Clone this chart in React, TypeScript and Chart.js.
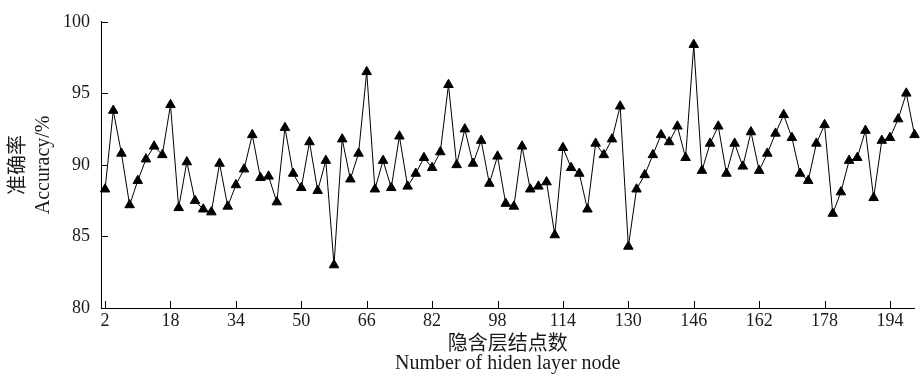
import React, { useEffect, useRef } from 'react';
import { Chart, registerables } from 'chart.js';

Chart.register(...registerables);

const nodes = [
  2, 4, 6, 8, 10, 12, 14, 16, 18, 20,
  22, 24, 26, 28, 30, 32, 34, 36, 38, 40,
  42, 44, 46, 48, 50, 52, 54, 56, 58, 60,
  62, 64, 66, 68, 70, 72, 74, 76, 78, 80,
  82, 84, 86, 88, 90, 92, 94, 96, 98, 100,
  102, 104, 106, 108, 110, 112, 114, 116, 118, 120,
  122, 124, 126, 128, 130, 132, 134, 136, 138, 140,
  142, 144, 146, 148, 150, 152, 154, 156, 158, 160,
  162, 164, 166, 168, 170, 172, 174, 176, 178, 180,
  182, 184, 186, 188, 190, 192, 194, 196, 198, 200,
];

const accuracy = [
  88.3, 93.8, 90.8, 87.2, 88.9, 90.4, 91.3, 90.7, 94.2, 87.0,
  90.2, 87.5, 86.9, 86.7, 90.1, 87.1, 88.6, 89.7, 92.1, 89.1,
  89.2, 87.4, 92.6, 89.4, 88.4, 91.6, 88.2, 90.3, 83.0, 91.8,
  89.0, 90.8, 96.5, 88.3, 90.3, 88.4, 92.0, 88.5, 89.4, 90.5,
  89.8, 90.9, 95.6, 90.0, 92.5, 90.1, 91.7, 88.7, 90.6, 87.3,
  87.1, 91.3, 88.3, 88.5, 88.8, 85.1, 91.2, 89.8, 89.4, 86.9,
  91.5, 90.7, 91.8, 94.1, 84.3, 88.3, 89.3, 90.7, 92.1, 91.6,
  92.7, 90.5, 98.4, 89.6, 91.5, 92.7, 89.4, 91.5, 89.9, 92.3,
  89.6, 90.8, 92.2, 93.5, 91.9, 89.4, 88.9, 91.5, 92.8, 86.6,
  88.1, 90.3, 90.5, 92.4, 87.7, 91.7, 91.9, 93.2, 95.0, 92.1,
];

const xTicks = [2, 18, 34, 50, 66, 82, 98, 114, 130, 146, 162, 178, 194];
const yTicks = [80, 85, 90, 95, 100];
const yTitle = ['准确率', 'Accuracy/%'];
const xTitle = ['隐含层结点数', 'Number of hiden layer node'];

const FONT = "'Liberation Serif', 'Noto Sans CJK SC', serif";
const TEXT = '#1a1a1a';

const inwardTicks = {
  id: 'inwardTicks',
  afterDraw(chart: any) {
    const { ctx, chartArea, scales } = chart;
    ctx.save();
    ctx.strokeStyle = '#000';
    ctx.lineWidth = 1;
    ctx.beginPath();
    scales.y.ticks.forEach((t: any) => {
      const py = Math.round(scales.y.getPixelForValue(t.value)) + 0.5;
      ctx.moveTo(chartArea.left, py);
      ctx.lineTo(chartArea.left + 7, py);
    });
    scales.x.ticks.forEach((t: any) => {
      const px = Math.round(scales.x.getPixelForValue(t.value)) + 0.5;
      ctx.moveTo(px, chartArea.bottom);
      ctx.lineTo(px, chartArea.bottom - 7);
    });
    ctx.stroke();
    ctx.restore();
  },
};

export default function App() {
  const ref = useRef<HTMLCanvasElement | null>(null);

  useEffect(() => {
    if (!ref.current) return;
    const chart = new Chart(ref.current, {
      type: 'line',
      data: {
        datasets: [
          {
            data: nodes.map((x, i) => ({ x, y: accuracy[i] })),
            borderColor: '#000',
            borderWidth: 1,
            pointStyle: 'triangle',
            pointRadius: 5.5,
            pointBackgroundColor: '#000',
            pointBorderColor: '#000',
            pointBorderWidth: 1,
            tension: 0,
            clip: false as any,
          },
        ],
      },
      options: {
        animation: false,
        responsive: false,
        devicePixelRatio: 1,
        events: [],
        layout: { padding: { top: 15, right: 1, left: 0, bottom: 0 } },
        plugins: { legend: { display: false }, tooltip: { enabled: false } },
        scales: {
          x: {
            type: 'linear',
            min: 1,
            max: 200,
            afterBuildTicks: (s: any) => {
              s.ticks = xTicks.map((v) => ({ value: v }));
            },
            afterFit: (s: any) => {
              s.height = 70;
            },
            ticks: {
              autoSkip: false,
              maxRotation: 0,
              padding: 2,
              color: TEXT,
              font: { family: FONT, size: 18 },
            },
            grid: { display: false, drawTicks: false },
            border: { display: true, color: '#000', width: 1 },
            title: {
              display: true,
              text: xTitle,
              color: TEXT,
              font: { family: FONT, size: 20, lineHeight: 0.95 },
              padding: { top: 0, bottom: 4.5 },
            },
          },
          y: {
            type: 'linear',
            min: 80,
            max: 100,
            afterBuildTicks: (s: any) => {
              s.ticks = yTicks.map((v) => ({ value: v }));
            },
            afterFit: (s: any) => {
              s.width = 101;
            },
            ticks: {
              padding: 11,
              color: TEXT,
              font: { family: FONT, size: 18 },
            },
            grid: { display: false, drawTicks: false },
            border: { display: true, color: '#000', width: 1 },
            title: {
              display: true,
              text: yTitle,
              color: TEXT,
              font: { family: FONT, size: 20, lineHeight: 1.25 },
              padding: { top: 6.5, bottom: 0 },
            },
          },
        },
      },
      plugins: [inwardTicks],
    });
    return () => chart.destroy();
  }, []);

  return (
    <div style={{ position: 'absolute', left: 0, top: 0, width: 921, height: 378, background: '#fff' }}>
      <canvas ref={ref} width={921} height={378} style={{ display: 'block' }} />
    </div>
  );
}
